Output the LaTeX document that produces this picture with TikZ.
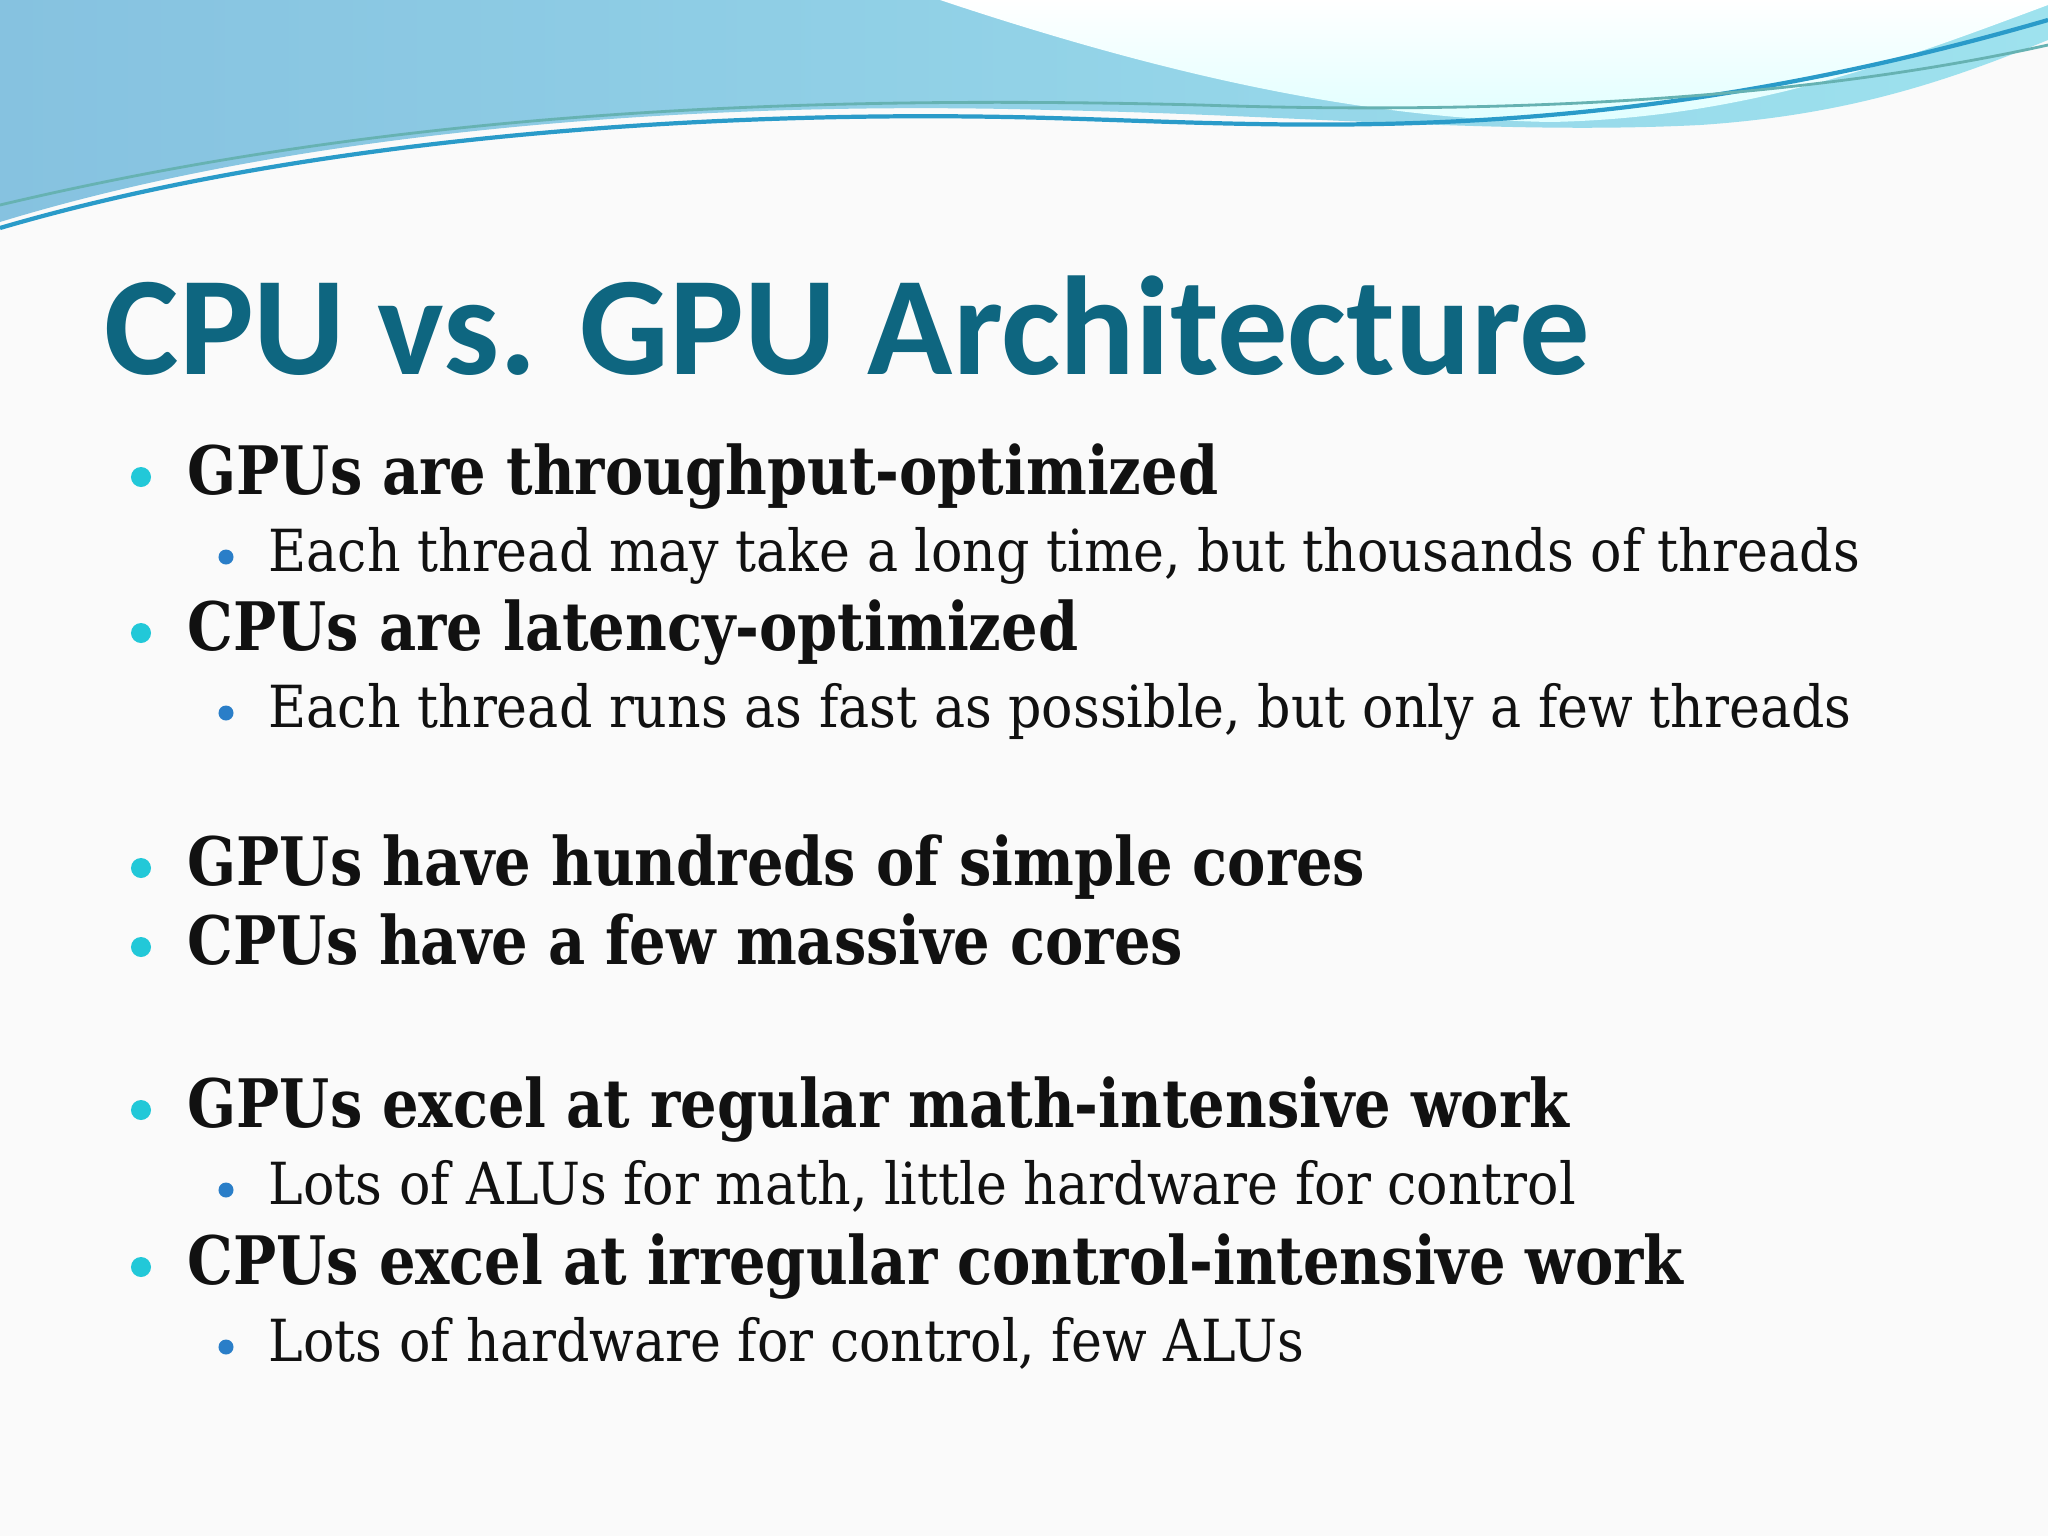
\documentclass[tikz,border=0pt]{standalone}
\usepackage{fontspec}
\setmainfont{DejaVu Serif}
\newfontfamily\mainfnt[FakeStretch=0.86]{DejaVu Serif}
\newfontfamily\subfnt[FakeStretch=0.9]{DejaVu Serif}
\newfontfamily\titlefont{Carlito}
\usetikzlibrary{shadings}
\definecolor{titlec}{HTML}{0E6680}
\definecolor{mainbul}{HTML}{22C8D8}
\definecolor{subbul}{HTML}{2A7EC8}
\definecolor{txt}{HTML}{111111}
\definecolor{hl}{HTML}{86C2E0}
\definecolor{hr}{HTML}{9EE2EE}
\tikzset{
 mainl/.style={anchor=base west,inner sep=0,text=txt,font=\mainfnt\fontsize{19pt}{22pt}\selectfont\bfseries},
 subl/.style={anchor=base west,inner sep=0,text=txt,font=\subfnt\fontsize{16.5pt}{20pt}\selectfont},
 mbul/.style={circle,fill=mainbul,inner sep=0,minimum size=0.2cm},
 sbul/.style={circle,fill=subbul,inner sep=0,minimum size=0.15cm}
}
\begin{document}
\begin{tikzpicture}[x=0.01cm,y=-0.01cm]
\fill[white!96!gray] (0,0) rectangle (2048,1536);
\useasboundingbox (0,0) rectangle (2048,1536);
% header wave
\shade[left color=hl, right color=hr]
 (0,0) -- (0,222) .. controls (300,130) and (700,100) .. (1050,110)
 .. controls (1300,115) and (1500,135) .. (1700,125)
 .. controls (1850,115) and (1950,80) .. (2048,40) -- (2048,0) -- cycle;
\shade[top color=white, bottom color=cyan!12!white]
 (940,0) .. controls (1150,70) and (1350,118) .. (1550,122)
 .. controls (1750,118) and (1900,60) .. (2048,5) -- (2048,0) -- cycle;
\draw[cyan!60!teal,line width=1.2pt] (0,228) .. controls (300,140) and (700,108) .. (1050,118)
 .. controls (1300,125) and (1600,150) .. (2048,20);
\draw[teal!60!white,line width=0.8pt] (0,205) .. controls (400,110) and (800,95) .. (1200,105)
 .. controls (1500,115) and (1800,100) .. (2048,45);
% title
\node[anchor=base west,inner sep=0,text=titlec,font=\titlefont\fontsize{40pt}{46pt}\selectfont\bfseries] (title) at (104,374) {CPU vs. GPU Architecture};
% bullets
\foreach \n/\y/\t in {m1/494/GPUs are throughput-optimized, m2/650/CPUs are latency-optimized, m3/885/GPUs have hundreds of simple cores, m4/964/CPUs have a few massive cores, m5/1127/GPUs excel at regular math-intensive work, m6/1284/CPUs excel at irregular control-intensive work}{
 \node[mbul] (\n b) at (141,\y-17) {};
 \node[mainl] (\n) at (187,\y) {\t};
}
\foreach \n/\y/\t in {s1/571/{Each thread may take a long time, but thousands of threads}, s2/727/{Each thread runs as fast as possible, but only a few threads}, s3/1204/{Lots of ALUs for math, little hardware for control}, s4/1361/{Lots of hardware for control, few ALUs}}{
 \node[sbul] (\n b) at (226,\y-14) {};
 \node[subl] (\n) at (268,\y) {\t};
}
\end{tikzpicture}
\end{document}
